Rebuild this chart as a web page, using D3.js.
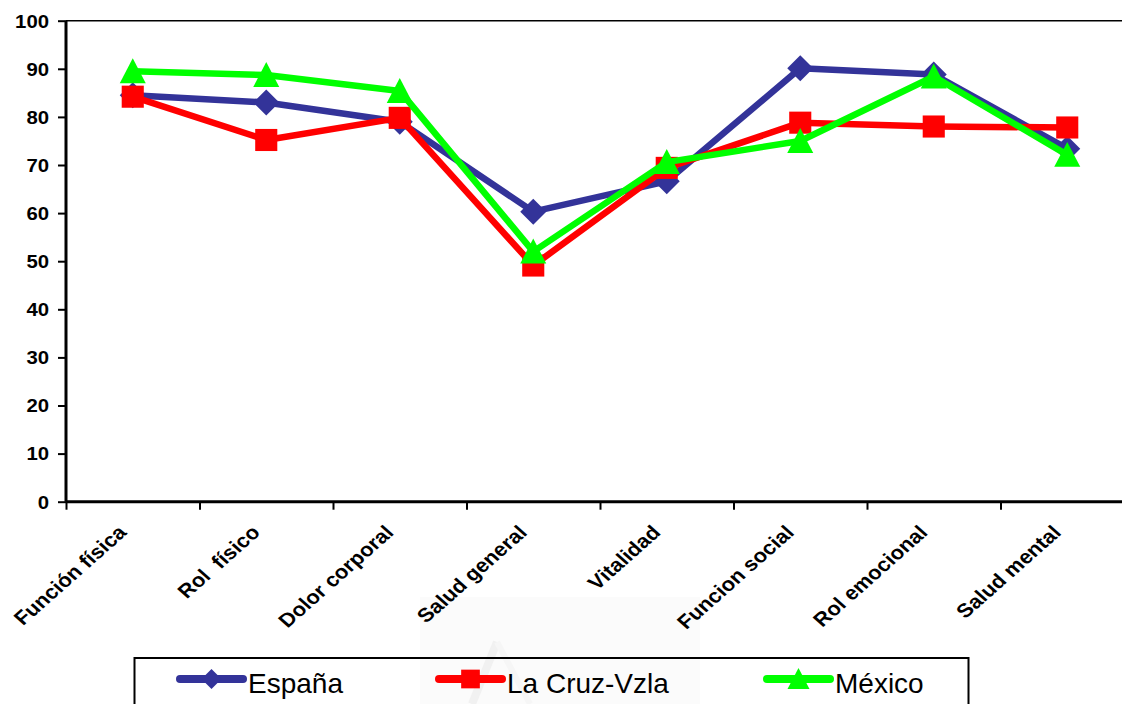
<!DOCTYPE html>
<html>
<head>
<meta charset="utf-8">
<script src="https://cdn.jsdelivr.net/npm/d3@7"></script>
<style>
  html, body { margin: 0; padding: 0; background: #ffffff; }
  svg { display: block; }
</style>
</head>
<body>
<svg id="chart" width="1122" height="704"></svg>
<script>
// SF-36 dimensions compared across three samples
const categories = ["Función física", "Rol  físico", "Dolor corporal", "Salud general",
                    "Vitalidad", "Funcion social", "Rol emocional", "Salud mental"];
const espana    = [84.5, 83.0, 79.0, 60.3, 66.6, 90.1, 88.8, 73.4];
const laCruz    = [84.2, 75.2, 79.8, 49.1, 69.4, 78.8, 78.0, 77.8];
const mexico    = [89.5, 88.7, 85.4, 52.0, 70.6, 75.0, 88.4, 72.1];
const seriesNames = ["España", "La Cruz-Vzla", "México"];
const yTicks = [0, 10, 20, 30, 40, 50, 60, 70, 80, 90, 100];

const series = [
  { name: seriesNames[0], values: espana, color: "#333399", shape: "diamond" },
  { name: seriesNames[1], values: laCruz, color: "#ff0000", shape: "square" },
  { name: seriesNames[2], values: mexico, color: "#00ff00", shape: "triangle" }
];

const svg = d3.select("#chart");
const plotLeft = 66, plotRight = 1134, plotTop = 20.7, plotBottom = 501.7;
const stretch = 1.13; // bold axis text is set slightly wide

const x = d3.scaleBand().domain(categories).range([plotLeft, plotRight]).padding(0);
const xEdges = d3.scaleLinear().domain([0, categories.length]).range([plotLeft, plotRight]);
const y = d3.scaleLinear().domain([0, 100]).range([plotBottom, plotTop]);

// faint background stamp under the legend
const stamp = svg.append("g");
stamp.append("rect").attr("x", 420).attr("y", 597).attr("width", 280).attr("height", 107)
  .attr("fill", "#fbfbfb");
stamp.append("path").attr("d", "M472,704 L497,642")
  .attr("fill", "none").attr("stroke", "#f1f1f1").attr("stroke-width", 8);
stamp.append("path").attr("d", "M497,642 L530,704")
  .attr("fill", "none").attr("stroke", "#f6f6f6").attr("stroke-width", 6);

// plot frame (top edge)
svg.append("line").attr("x1", plotLeft).attr("x2", 1122).attr("y1", plotTop).attr("y2", plotTop)
  .attr("stroke", "#000").attr("stroke-width", 1.6);

// y axis
const yAxis = d3.axisLeft(y).tickValues(yTicks).tickSize(8).tickPadding(9);
const gy = svg.append("g").attr("transform", `translate(${plotLeft},0)`).call(yAxis);
gy.select(".domain").attr("stroke", "#000").attr("stroke-width", 3).attr("d", `M0,${plotBottom}V${plotTop}`);
gy.selectAll(".tick line").attr("stroke", "#000").attr("stroke-width", 2);
gy.selectAll(".tick text")
  .attr("fill", "#000")
  .attr("x", null)
  .attr("transform", `translate(-17,0) scale(${stretch},1)`)
  .style("font-family", "'Liberation Sans', Arial, sans-serif")
  .style("font-weight", "bold")
  .style("font-size", "18px")
  .attr("dy", "0.35em");

// x axis: ticks on category boundaries
const xAxis = d3.axisBottom(xEdges).tickValues(d3.range(categories.length + 1))
  .tickSize(8).tickFormat("");
const gx = svg.append("g").attr("transform", `translate(0,${plotBottom})`).call(xAxis);
gx.select(".domain").attr("stroke", "#000").attr("stroke-width", 3).attr("d", `M${plotLeft},0H1122`);
gx.selectAll(".tick line").attr("stroke", "#000").attr("stroke-width", 2);

// rotated category labels
svg.append("g").selectAll("text").data(categories).join("text")
  .attr("transform", d => `translate(${x(d) + x.bandwidth() / 2 - 5},${plotBottom + 32}) scale(${stretch},1) rotate(-45)`)
  .attr("text-anchor", "end")
  .style("font-family", "'Liberation Sans', Arial, sans-serif")
  .style("font-weight", "bold")
  .style("font-size", "19.5px")
  .style("white-space", "pre")
  .attr("fill", "#000")
  .text(d => d);

// marker shapes
function markerPath(shape, s) {
  if (shape === "diamond") return `M0,${-s}L${s},0L0,${s}L${-s},0Z`;
  if (shape === "square") return `M${-s * 0.85},${-s * 0.85}H${s * 0.85}V${s * 0.85}H${-s * 0.85}Z`;
  return `M0,${-s}L${s},${s * 0.92}H${-s}Z`;
}

const line = d3.line().x((d, i) => x(categories[i]) + x.bandwidth() / 2).y(d => y(d));

series.forEach(s => {
  const g = svg.append("g");
  g.append("path").datum(s.values).attr("d", line)
    .attr("fill", "none").attr("stroke", s.color).attr("stroke-width", 6.5)
    .attr("stroke-linejoin", "round");
  g.selectAll("path.m").data(s.values).join("path").attr("class", "m")
    .attr("transform", (d, i) => `translate(${x(categories[i]) + x.bandwidth() / 2},${y(d)})`)
    .attr("d", markerPath(s.shape, 13))
    .attr("fill", s.color);
});

// legend
const legend = svg.append("g");
legend.append("rect").attr("x", 134.5).attr("y", 658).attr("width", 834).attr("height", 70)
  .attr("fill", "none").attr("stroke", "#000").attr("stroke-width", 2);
const legendX = [180, 439, 767];
series.forEach((s, i) => {
  const lx = legendX[i];
  legend.append("line").attr("x1", lx).attr("x2", lx + 63).attr("y1", 679).attr("y2", 679)
    .attr("stroke", s.color).attr("stroke-width", 8).attr("stroke-linecap", "round");
  legend.append("path").attr("transform", `translate(${lx + 31.5},679)`)
    .attr("d", markerPath(s.shape, s.shape === "diamond" ? 10 : 11))
    .attr("fill", s.color);
  legend.append("text").attr("x", lx + 68).attr("y", 693)
    .style("font-family", "'Liberation Sans', Arial, sans-serif")
    .style("font-size", "28px")
    .attr("fill", "#000")
    .text(s.name);
});
</script>
</body>
</html>
